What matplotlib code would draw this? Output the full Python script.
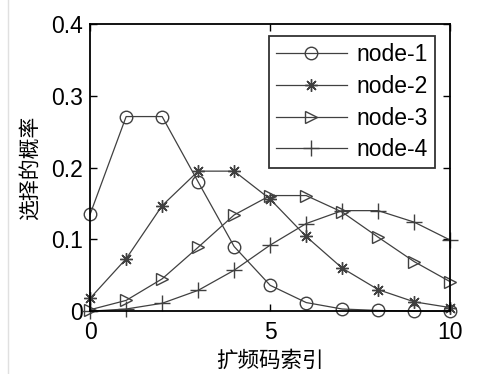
import matplotlib
matplotlib.use("Agg")
import matplotlib.pyplot as plt

plt.rcParams['font.family'] = ['Liberation Sans', 'Noto Sans CJK SC', 'DejaVu Sans']

code_index = list(range(11))
node1 = [0.135, 0.271, 0.271, 0.180, 0.090, 0.036, 0.012, 0.003, 0.001, 0.000, 0.000]
node2 = [0.018, 0.073, 0.147, 0.195, 0.195, 0.156, 0.104, 0.060, 0.030, 0.013, 0.005]
node3 = [0.002, 0.015, 0.045, 0.089, 0.134, 0.161, 0.161, 0.138, 0.103, 0.069, 0.041]
node4 = [0.000, 0.003, 0.011, 0.029, 0.057, 0.092, 0.122, 0.140, 0.140, 0.124, 0.099]
labels = ['node-1', 'node-2', 'node-3', 'node-4']
# circle, asterisk (8 spokes), right triangle, plus
markers = ['o', (8, 2, 0), '>', '+']
marker_sizes = [9, 9, 9, 11]
x_ticks = [0, 5, 10]
y_ticks = [0, 0.1, 0.2, 0.3, 0.4]
y_ticklabels = ['0', '0.1', '0.2', '0.3', '0.4']

line_color = '#404040'
fs = 16.5

fig = plt.figure(figsize=(4.98, 3.74), dpi=100)
ax = fig.add_axes([0.181, 0.168, 0.723, 0.768])

for ys, lab, m, ms in zip([node1, node2, node3, node4], labels, markers, marker_sizes):
    ax.plot(code_index, ys, color=line_color, linewidth=0.9, marker=m,
            markersize=ms, fillstyle='none', markeredgewidth=1.0,
            label=lab, clip_on=False)

ax.set_xlim(0, 10)
ax.set_ylim(0, 0.4)
ax.set_xticks(x_ticks)
ax.set_yticks(y_ticks)
ax.set_yticklabels(y_ticklabels)
ax.tick_params(direction='in', top=True, right=True, length=5, width=1,
               labelsize=fs, colors='black')
ax.tick_params(axis='x', pad=7)
ax.tick_params(axis='y', pad=5)
for s in ax.spines.values():
    s.set_linewidth(1.3)

ax.set_xlabel('扩频码索引', fontsize=15.5, labelpad=4,
              family=['Noto Sans CJK SC', 'DejaVu Sans'])
ax.set_ylabel('选择的概率', fontsize=15, labelpad=8,
              family=['Noto Sans CJK SC', 'DejaVu Sans'])

leg = ax.legend(loc='upper right', fontsize=fs, frameon=True, fancybox=False,
                edgecolor='black', handlelength=3.1, labelspacing=0.38,
                borderpad=0.3, handletextpad=0.45, bbox_to_anchor=(0.99, 0.997))
leg.get_frame().set_linewidth(1.3)

# faint page border on the left
fig.add_artist(plt.Line2D([0.016, 0.016], [0, 1], color='#e0e0e0', linewidth=1,
                          transform=fig.transFigure))

fig.savefig('out.png', dpi=100, facecolor='white')
